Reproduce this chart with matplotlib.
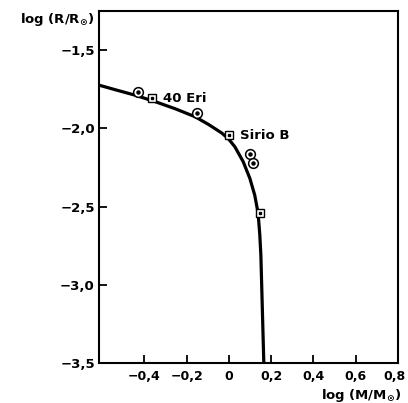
import matplotlib
matplotlib.use("Agg")
import matplotlib.pyplot as plt
import matplotlib.transforms as mtransforms

# Curve (mass-radius relation)
curve_logm = [-0.62, -0.536, -0.442, -0.348, -0.254, -0.160, -0.097, -0.034, -0.003,
              0.028, 0.067, 0.099, 0.122, 0.138, 0.146, 0.151, 0.165]
curve_logr = [-1.722, -1.754, -1.789, -1.830, -1.875, -1.926, -1.975, -2.030, -2.066,
              -2.118, -2.212, -2.320, -2.427, -2.543, -2.682, -2.810, -3.5]

# Observed white dwarfs (circle markers)
circ_logm = [-0.43, -0.152, 0.099, 0.114]
circ_logr = [-1.768, -1.904, -2.166, -2.220]

# Square markers (40 Eri B, Sirio B, other)
sq_logm = [-0.364, 0.001, 0.149]
sq_logr = [-1.807, -2.043, -2.543]
sq_names = ["40 Eri", "Sirio B", ""]

xticks = [-0.4, -0.2, 0, 0.2, 0.4, 0.6, 0.8]
xticklabels = ["\u22120,4", "\u22120,2", "0", "0,2", "0,4", "0,6", "0,8"]
yticks = [-1.5, -2.0, -2.5, -3.0, -3.5]
yticklabels = ["\u22121,5", "\u22122,0", "\u22122,5", "\u22123,0", "\u22123,5"]

plt.rcParams['font.family'] = ['DejaVu Sans']
plt.rcParams['font.weight'] = 'bold'
plt.rcParams['mathtext.default'] = 'bf'

fig = plt.figure(figsize=(4.08, 4.03), dpi=100)
ax = fig.add_axes([99/408, 1-363/403, (398-99)/408, (363-11)/403])

ax.plot(curve_logm, curve_logr, color='black', lw=2.3, solid_capstyle='butt',
        solid_joinstyle='round', zorder=2)

ax.plot(circ_logm, circ_logr, linestyle='none', marker='o', markersize=7,
        markerfacecolor='white', markeredgecolor='black', markeredgewidth=1.1, zorder=3)
ax.plot(circ_logm, circ_logr, linestyle='none', marker='o', markersize=2.2,
        markerfacecolor='black', markeredgecolor='black', zorder=4)
ax.plot(sq_logm, sq_logr, linestyle='none', marker='s', markersize=5.2,
        markerfacecolor='white', markeredgecolor='black', markeredgewidth=1.0, zorder=3)
ax.plot(sq_logm, sq_logr, linestyle='none', marker='s', markersize=1.8,
        markerfacecolor='black', markeredgecolor='black', zorder=4)

for xm, ym, name in zip(sq_logm, sq_logr, sq_names):
    if name:
        ax.annotate(name, (xm, ym), xytext=(8, 0), textcoords='offset points',
                    ha='left', va='center', fontsize=9.5, fontweight='bold')

ax.set_xlim(-0.615, 0.8)
ax.set_ylim(-3.5, -1.25)
ax.set_xticks(xticks)
ax.set_xticklabels(xticklabels)
ax.set_yticks(yticks)
ax.set_yticklabels(yticklabels)
ax.tick_params(direction='in', length=6, width=1.3, labelsize=9.5, pad=3)
ax.tick_params(axis='x', pad=5, labelsize=9)
for s in ax.spines.values():
    s.set_linewidth(1.5)

# nudge the last x tick label so it stays inside the figure
last = ax.get_xticklabels()[-1]
last.set_transform(last.get_transform() +
                   mtransforms.ScaledTranslation(-4/100, 0, fig.dpi_scale_trans))

fig.text(94/408, 1-20/403, r'log (R/R$_{\odot}$)', ha='right', va='center',
         fontsize=9.5, fontweight='bold')
fig.text(401/408, 1-395/403, r'log (M/M$_{\odot}$)', ha='right', va='center',
         fontsize=9.5, fontweight='bold')

fig.savefig('out.png', dpi=100)
